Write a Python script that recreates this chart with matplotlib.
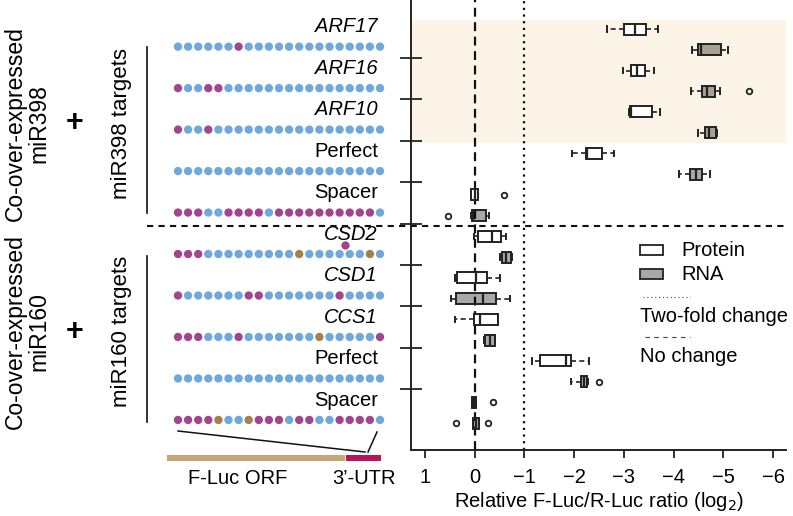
import matplotlib
matplotlib.use("Agg")
import matplotlib.pyplot as plt
from matplotlib.patches import Rectangle
from matplotlib.lines import Line2D
from matplotlib.transforms import blended_transform_factory

plt.rcParams["font.family"] = ["Liberation Sans", "DejaVu Sans"]

W, H = 793, 516
FS = 14.5

# ---- data ----
targets = ["ARF17", "ARF16", "ARF10", "Perfect", "Spacer",
           "CSD2", "CSD1", "CCS1", "Perfect", "Spacer"]
italic = [True, True, True, False, False, True, True, True, False, False]

# site colour codes per target (B=match, M=mismatch, T=G:U wobble)
sites = [
    "BBBBBBMBBBBBBBBBBBBBB",
    "MBBMMBBBBBBBBBBBBBBBB",
    "MBBMBBBBBBBBBBBBBBBBB",
    "BBBBBBBBBBBBBBBBBBBBB",
    "MMMBBMMMMBMMMMMMMMMMB",
    "MMMBBBBBBBBBTBBBBBBTB",
    "MBBBBBBMMBBBBBBBMBBBB",
    "MMMBBBMBBBBBBBTBBBBBM",
    "BBBBBBBBBBBBBBBBBBBBB",
    "MMMMTBBTMMMBMMBBMMMMB",
]
dot_colors = {"B": "#6ea8dc", "M": "#a2458f", "T": "#a5804c"}

# protein boxes
prot_whislo = [-3.69, -3.61, -3.73, -2.80, -0.07, -0.64, -0.50, -0.46, -2.29, -0.03]
prot_q1 = [-3.44, -3.42, -3.57, -2.57, -0.07, -0.53, -0.25, -0.46, -1.93, -0.03]
prot_med = [-3.22, -3.27, -3.15, -2.25, 0.00, -0.35, -0.03, -0.10, -1.84, 0.01]
prot_q3 = [-3.01, -3.14, -3.12, -2.24, 0.07, -0.06, 0.35, 0.01, -1.31, 0.06]
prot_whishi = [-2.67, -2.99, -3.10, -1.95, 0.07, 0.01, 0.39, 0.39, -1.15, 0.06]
prot_fliers = [[], [], [], [], [-0.58], [], [], [], [], [-0.37]]

# RNA boxes
rna_whislo = [-5.10, -4.94, -4.87, -4.73, -0.28, -0.76, -0.72, -0.41, -2.27, -0.09]
rna_q1 = [-4.95, -4.84, -4.85, -4.58, -0.23, -0.74, -0.42, -0.40, -2.26, -0.09]
rna_med = [-4.55, -4.67, -4.71, -4.45, 0.04, -0.64, -0.17, -0.30, -2.19, -0.02]
rna_q3 = [-4.50, -4.58, -4.63, -4.33, 0.06, -0.55, 0.37, -0.21, -2.13, 0.04]
rna_whishi = [-4.38, -4.35, -4.50, -4.11, 0.07, -0.51, 0.48, -0.19, -1.94, 0.04]
rna_fliers = [[], [-5.52], [], [], [0.53], [], [], [], [-2.50], [0.37, -0.27]]

xticks = [1, 0, -1, -2, -3, -4, -5, -6]


def fx(x):
    return x / W


def fy(y):
    return 1 - y / H


def stats(lo, q1, med, q3, hi, fl):
    return [dict(whislo=a, q1=b, med=c, q3=d, whishi=e, fliers=f)
            for a, b, c, d, e, f in zip(lo, q1, med, q3, hi, fl)]


fig = plt.figure(figsize=(W / 100, H / 100), dpi=100)
ax = fig.add_axes([fx(411), fy(450), fx(786) - fx(411), 450 / H])
axl = fig.add_axes([0, fy(450), fx(411), 450 / H])

ylim = (20.30, -1.40)
n = len(targets)
pos_p = [2 * k for k in range(n)]
pos_r = [2 * k + 1 for k in range(n)]

ax.axhspan(-0.45, 5.5, color="#fcf4e6", zorder=0, lw=0)
ax.axvline(0, color="#111", lw=1.6, ls=(0, (4, 2.5)), zorder=1)
ax.axvline(-1, color="#111", lw=1.6, ls=(0, (1, 2)), zorder=1)

common = dict(widths=0.53, orientation="horizontal", patch_artist=True,
              manage_ticks=False, capwidths=0.27,
              medianprops=dict(color="#222", linewidth=1.6),
              whiskerprops=dict(color="#222", linewidth=1.2, linestyle=(0, (3, 2))),
              capprops=dict(color="#222", linewidth=1.4),
              flierprops=dict(marker="o", markersize=4, markerfacecolor="none",
                              markeredgecolor="#222", markeredgewidth=1.3))
ax.bxp(stats(prot_whislo, prot_q1, prot_med, prot_q3, prot_whishi, prot_fliers),
       positions=pos_p, boxprops=dict(facecolor="white", edgecolor="#222", linewidth=1.4),
       **common)
ax.bxp(stats(rna_whislo, rna_q1, rna_med, rna_q3, rna_whishi, rna_fliers),
       positions=pos_r, boxprops=dict(facecolor=(0, 0, 0, 0.34), edgecolor="#222", linewidth=1.4),
       **common)

ax.set_xlim(1.28, -6.26)
ax.set_ylim(*ylim)
ax.set_xticks(xticks)
ax.set_xticklabels([str(t).replace("-", "\u2212") for t in xticks])
ax.set_yticks([2 * k + 1.38 for k in range(n - 1)])
ax.set_yticklabels([])
ax.tick_params(axis="y", direction="inout", length=16, width=1.3, color="#222")
ax.tick_params(axis="x", direction="out", length=6, width=1.3, color="#222",
               labelsize=FS, pad=7)
for s in ["top", "right"]:
    ax.spines[s].set_visible(False)
for s in ["left", "bottom"]:
    ax.spines[s].set_linewidth(1.4)
    ax.spines[s].set_color("#222")
ax.set_xlabel("Relative F-Luc/R-Luc ratio (log$_2$)", fontsize=FS, labelpad=2)

# ---- left panel: target site dots ----
axl.set_xlim(0, 411)
axl.set_ylim(*ylim)
axl.axis("off")
x0, step = 178, 10.1
for k, (name, seq) in enumerate(zip(targets, sites)):
    xs = [x0 + step * i for i in range(len(seq))]
    cols = [dot_colors[c] for c in seq]
    axl.scatter(xs, [2 * k + 0.85] * len(seq), s=36, c=cols, lw=0)
    axl.text(378, 2 * k - 0.1, name, ha="right", va="center", fontsize=FS,
             style="italic" if italic[k] else "normal")
# bulged nucleotide in CSD2 site
axl.scatter([x0 + step * 16.5], [2 * 5 + 0.42], s=36, c=dot_colors["M"], lw=0)

# group divider and brackets
bt = blended_transform_factory(fig.transFigure, ax.transData)
fig.add_artist(Line2D([fx(147), fx(787)], [9.5, 9.5], transform=bt, color="#111",
                      lw=1.5, ls=(0, (3, 2.5))))
for y0, y1 in [(0.85, 8.85), (10.95, 18.95)]:
    fig.add_artist(Line2D([fx(147), fx(147)], [y0, y1], transform=bt, color="#111", lw=1.2))

for yc, mir in [(4.55, "miR398"), (14.6, "miR160")]:
    fig.text(fx(27), yc, "Co-over-expressed\n" + mir, transform=bt, rotation=90,
             ha="center", va="center", fontsize=16.5, multialignment="center",
             linespacing=1.0)
    fig.text(fx(75), yc, "+", transform=bt, ha="center", va="center",
             fontsize=22, fontweight="bold")
    fig.text(fx(121), yc, mir + " targets", transform=bt, rotation=90,
             ha="center", va="center", fontsize=16)

# reporter construct
fig.add_artist(Line2D([fx(178), fx(365)], [fy(431), fy(452)], color="#111", lw=1.1))
fig.add_artist(Line2D([fx(377), fx(368)], [fy(432), fy(452)], color="#111", lw=1.1))
fig.add_artist(Rectangle((fx(167), fy(461)), fx(345) - fx(167), 6 / H, color="#c6a677", lw=0))
fig.add_artist(Rectangle((fx(346), fy(461)), fx(381) - fx(346), 6 / H, color="#b8145a", lw=0))
fig.text(fx(238), fy(479), "F-Luc ORF", ha="center", va="center", fontsize=FS)
fig.text(fx(364), fy(479), "3\u2019-UTR", ha="center", va="center", fontsize=FS)

# legend
fig.add_artist(Rectangle((fx(640), fy(255)), fx(663) - fx(640), 10 / H, facecolor="white",
                         edgecolor="#222", lw=1.3))
fig.add_artist(Rectangle((fx(640), fy(279)), fx(663) - fx(640), 10 / H, facecolor="#a9a9a9",
                         edgecolor="#222", lw=1.3))
fig.text(fx(681), fy(250), "Protein", ha="left", va="center", fontsize=FS)
fig.text(fx(681), fy(274), "RNA", ha="left", va="center", fontsize=FS)
fig.add_artist(Line2D([fx(643), fx(690)], [fy(297), fy(297)], color="#444", lw=0.8,
                      ls=(0, (1, 2.5))))
fig.text(fx(640), fy(317), "Two-fold change", ha="left", va="center", fontsize=FS)
fig.add_artist(Line2D([fx(645), fx(690)], [fy(337), fy(337)], color="#444", lw=0.8,
                      ls=(0, (4, 4))))
fig.text(fx(640), fy(357), "No change", ha="left", va="center", fontsize=FS)

fig.savefig("out.png", dpi=100)
